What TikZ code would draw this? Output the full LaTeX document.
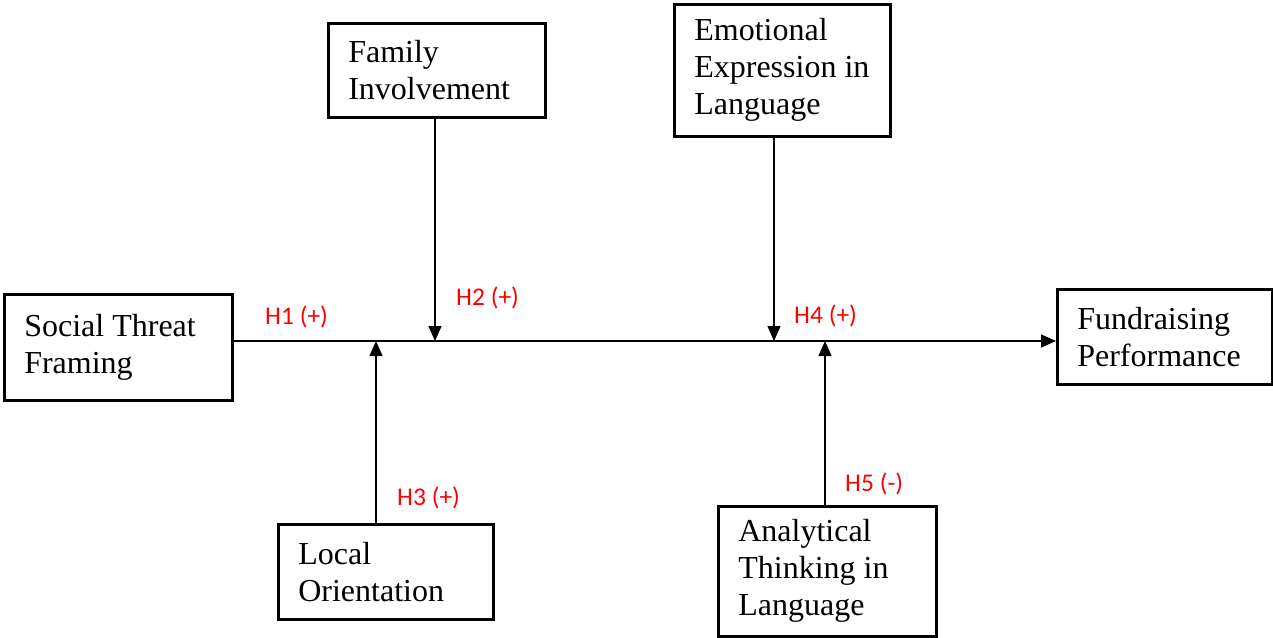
\documentclass[tikz,border=0pt]{standalone}
\usepackage{fontspec}
\setmainfont{Liberation Serif}
\newfontfamily\lblfont{Carlito}
\usetikzlibrary{arrows.meta}
\begin{document}
\begin{tikzpicture}[x=1pt,y=-1pt,
  box/.style={draw=black, line width=2.6pt, rectangle, anchor=north west,
    align=flush left, inner xsep=20pt, inner ysep=0pt,
    font=\fontsize{32}{37}\selectfont},
  conn/.style={line width=1.3pt, draw=black},
  arr/.style={conn, -{Triangle[length=15pt,width=13pt]}},
  hyp/.style={anchor=base west, inner sep=0pt, text=red,
    font=\lblfont\fontsize{25.5}{28}\selectfont}]
\useasboundingbox (0,0) rectangle (1273,637);

\node[box, text width=188pt, minimum height=106pt] (stf) at (3,293) {Social Threat\\Framing};
\node[box, text width=177pt, minimum height=94pt] (fam) at (327,22) {Family\\Involvement};
\node[box, text width=176pt, minimum height=132pt] (emo) at (673,3) {Emotional\\Expression in\\Language};
\node[box, text width=175pt, minimum height=95pt] (fund) at (1056,288) {Fundraising\\Performance};
\node[box, text width=175pt, minimum height=95pt] (loc) at (277,523) {Local\\Orientation};
\node[box, text width=178pt, minimum height=130pt] (ana) at (717,505) {Analytical\\Thinking in\\Language};

\coordinate (mainy) at (0,341);
\coordinate (j1) at (435,341);
\coordinate (j2) at (376,341);
\coordinate (j3) at (774,341);
\coordinate (j4) at (825,341);

\draw[arr] (stf.east |- mainy) -- (fund.west |- mainy);
\draw[arr] (fam.south -| j1) -- (j1);
\draw[arr] (loc.north -| j2) -- (j2);
\draw[arr] (emo.south -| j3) -- (j3);
\draw[arr] (ana.north -| j4) -- (j4);

\node[hyp] (h1) at (265,324) {H1 (+)};
\node[hyp] (h2) at (456,305) {H2 (+)};
\node[hyp] (h3) at (397,505) {H3 (+)};
\node[hyp] (h4) at (794,323) {H4 (+)};
\node[hyp] (h5) at (845,491) {H5 (-)};
\end{tikzpicture}
\end{document}
